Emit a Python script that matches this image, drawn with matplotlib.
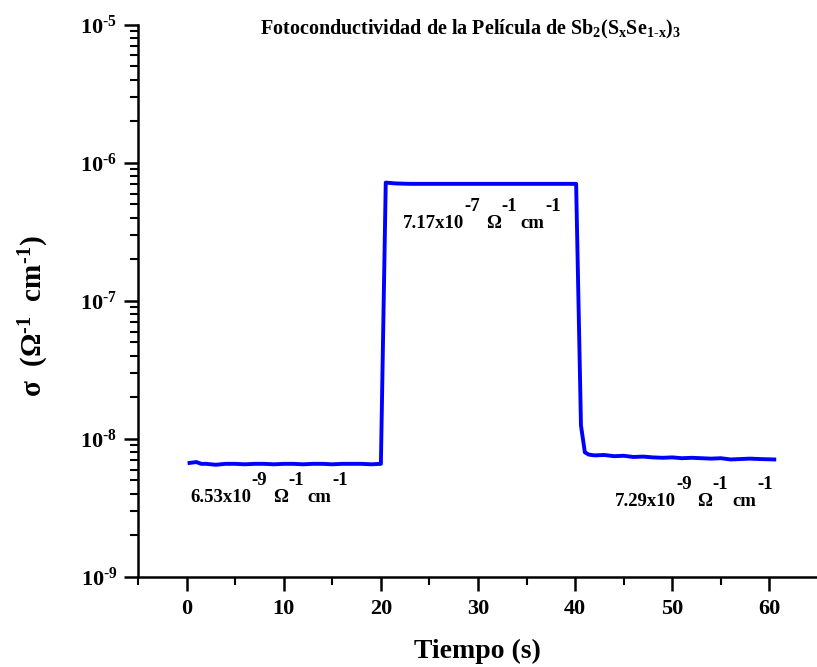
import matplotlib
matplotlib.use("Agg")
import matplotlib.pyplot as plt
from matplotlib.transforms import offset_copy
from matplotlib.ticker import LogLocator, NullFormatter, MultipleLocator, FixedLocator, FixedFormatter

plt.rcParams['font.family'] = ['Liberation Serif', 'DejaVu Serif']
plt.rcParams['font.weight'] = 'bold'
plt.rcParams['mathtext.fontset'] = 'custom'
plt.rcParams['mathtext.rm'] = 'Liberation Serif:bold'
plt.rcParams['mathtext.it'] = 'Liberation Serif:bold'
plt.rcParams['mathtext.bf'] = 'Liberation Serif:bold'
plt.rcParams['mathtext.default'] = 'rm'

# Data
tiempo = [0.3, 1.0, 1.5, 2.0, 3.0, 4.0, 5.0, 6.0, 7.0, 8.0, 9.0, 10.0, 11.0, 12.0,
          13.0, 14.0, 15.0, 16.0, 17.0, 18.0, 19.0, 20.0,
          20.5, 21.5, 23.0, 25.0, 27.0, 29.0, 31.0, 33.0, 35.0, 37.0, 39.0, 40.1,
          40.6, 41.0, 41.4, 42.0, 43.0, 44.0, 45.0, 46.0, 47.0, 48.0, 49.0, 50.0,
          51.0, 52.0, 53.0, 54.0, 55.0, 56.0, 57.0, 58.0, 59.0, 60.5]
sigma = [6.7e-9, 6.8e-9, 6.6e-9, 6.6e-9, 6.5e-9, 6.6e-9, 6.6e-9, 6.55e-9, 6.6e-9, 6.6e-9,
         6.55e-9, 6.6e-9, 6.6e-9, 6.55e-9, 6.6e-9, 6.6e-9, 6.55e-9, 6.6e-9, 6.6e-9, 6.6e-9,
         6.55e-9, 6.6e-9,
         7.2e-7, 7.1e-7, 7.05e-7, 7.05e-7, 7.05e-7, 7.05e-7, 7.05e-7, 7.05e-7, 7.05e-7,
         7.05e-7, 7.05e-7, 7.05e-7,
         1.25e-8, 8.0e-9, 7.7e-9, 7.6e-9, 7.65e-9, 7.5e-9, 7.55e-9, 7.4e-9, 7.45e-9,
         7.35e-9, 7.3e-9, 7.35e-9, 7.25e-9, 7.3e-9, 7.25e-9, 7.2e-9, 7.25e-9, 7.1e-9,
         7.15e-9, 7.2e-9, 7.15e-9, 7.1e-9]

x_ticks = [0, 10, 20, 30, 40, 50, 60]
y_ticks = [1e-9, 1e-8, 1e-7, 1e-6, 1e-5]
y_ticklabels = [r'10$^{\text{-}9}$', r'10$^{\text{-}8}$', r'10$^{\text{-}7}$',
                r'10$^{\text{-}6}$', r'10$^{\text{-}5}$']

# annotation values
ann_values = ['7.17', '6.53', '7.29']
ann_exps = ['-7', '-9', '-9']
ann_t = [22.3, 0.4, 44.1]
ann_sigma = [3.4e-7, 3.5e-9, 3.25e-9]

fig = plt.figure(figsize=(8.17, 6.67), dpi=100)
ax = fig.add_axes([0.169, 0.135, 0.831, 0.8277])

ax.plot(tiempo, sigma, color='#0000FF', lw=2.8, solid_joinstyle='round')

ax.set_yscale('log')
ax.set_ylim(1e-9, 1e-5)
ax.set_xlim(-5, 64.9)
ax.set_xticks(x_ticks)
ax.xaxis.set_minor_locator(MultipleLocator(5))
ax.yaxis.set_major_locator(FixedLocator(y_ticks))
ax.yaxis.set_major_formatter(FixedFormatter(y_ticklabels))
ax.yaxis.set_minor_locator(LogLocator(base=10, subs=range(2, 10), numticks=20))
ax.yaxis.set_minor_formatter(NullFormatter())

for s in ['top', 'right']:
    ax.spines[s].set_visible(False)
for s in ['left', 'bottom']:
    ax.spines[s].set_linewidth(1.8)

ax.tick_params(axis='both', which='major', direction='out', length=10, width=1.8,
               labelsize=16)
ax.tick_params(axis='both', which='minor', direction='out', length=6, width=1.5)
ax.tick_params(axis='x', pad=6)
ax.tick_params(axis='y', pad=5)

ax.set_xlabel('Tiempo (s)', fontsize=20, fontweight='bold', labelpad=14)
ax.set_ylabel(r'σ  ($\Omega^{\text{-}1}$  cm$^{\text{-}1}$)', fontsize=21,
              fontweight='bold')
ax.yaxis.set_label_coords(-0.128, 0.472)

ax.text(0.49, 1.012, r'Fotoconductividad de la Película de Sb$_2$(S$_x$Se$_{1\text{-}x}$)$_3$',
        transform=ax.transAxes, ha='center', va='top', fontsize=14.5, fontweight='bold')

renderer = fig.canvas.get_renderer()


def piece_text(x, y, parts, fontsize=13.5, rise=17):
    dx = 0.0
    for s, sup, gap in parts:
        tr = offset_copy(ax.transData, fig=fig, x=dx, y=(rise if sup else 0), units='dots')
        t = ax.text(x, y, s, transform=tr, fontsize=fontsize, fontweight='bold',
                    ha='left', va='baseline')
        dx += t.get_window_extent(renderer).width + gap


for v, e, xt, ys in zip(ann_values, ann_exps, ann_t, ann_sigma):
    piece_text(xt, ys, [(v + 'x10', False, 0), (e, True, 6), ('Ω', False, 0),
                        ('-1', True, 4), ('cm', False, 1), ('-1', True, 0)])

fig.savefig('out.png', dpi=100)
